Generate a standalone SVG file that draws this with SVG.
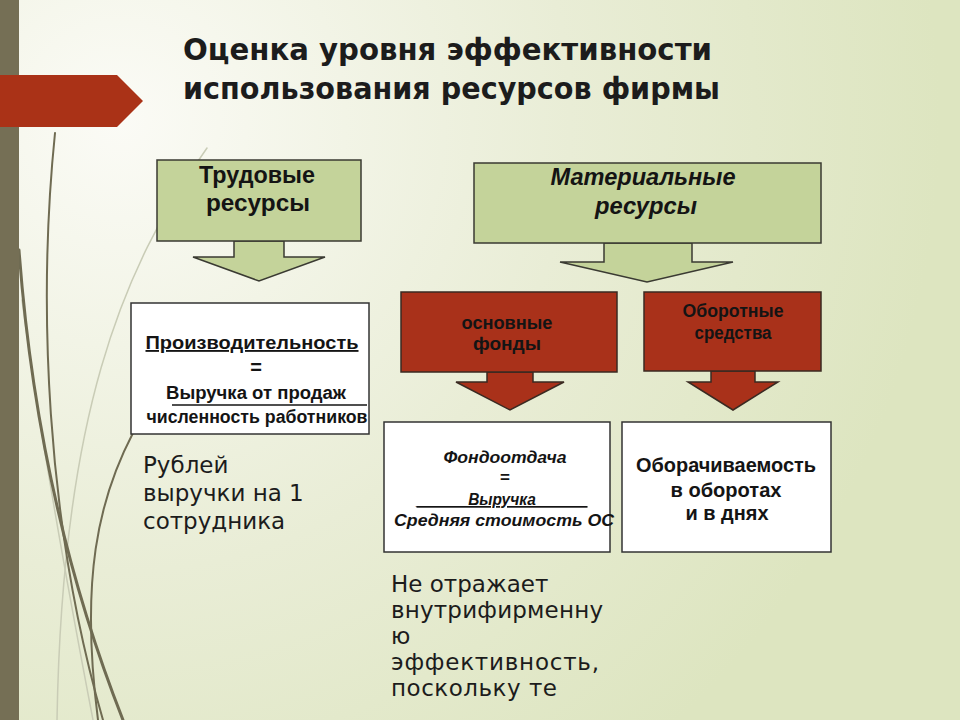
<svg xmlns="http://www.w3.org/2000/svg" width="960" height="720" viewBox="0 0 960 720">
<defs>
<radialGradient id="bg" cx="120" cy="120" r="820" gradientUnits="userSpaceOnUse">
<stop offset="0" stop-color="#fbfbf6"/>
<stop offset="0.55" stop-color="#e9edd6"/>
<stop offset="1" stop-color="#dde5c0"/>
</radialGradient>
<style>
.green{fill:#c4d39a;stroke:#3a3a32;stroke-width:1.5}
.red{fill:#a9311a;stroke:#3a2a22;stroke-width:1.5}
.white{fill:#ffffff;stroke:#333333;stroke-width:1.5}
.hb{font-family:"Liberation Sans",Arial,sans-serif;font-weight:bold;fill:#141414;text-anchor:middle}
.body{font-family:"DejaVu Sans","Liberation Sans",sans-serif;fill:#1c1c1c}
.curveD{fill:none;stroke:#6f6b52;stroke-linecap:round}
.curveL{fill:none;stroke:#c9ccb6;stroke-linecap:round}
</style>
</defs>
<rect width="960" height="720" fill="url(#bg)"/>
<g id="decor">
<path class="curveL" stroke-width="1.5" d="M207 148 C120 270, 62 420, 57 720"/>
<path class="curveL" stroke-width="1.5" d="M22 300 C42 450, 70 600, 93 720"/>
<path class="curveD" stroke-width="2" d="M55 133 C38 300, 45 520, 103 720"/>
<path class="curveD" stroke-width="3" d="M19 250 C30 400, 60 560, 123 720"/>
<path class="curveD" stroke-width="2" d="M133 433 C98 500, 80 580, 98 720"/>
<rect x="0" y="0" width="19" height="720" fill="#756f55"/>
<polygon points="0,75 117,75 143,101 117,127 0,127" fill="#aa3217"/>
</g>
<g id="title">
<text class="body" x="183" y="60" font-size="30" font-weight="bold" fill="#262626" textLength="529" lengthAdjust="spacingAndGlyphs">Оценка уровня эффективности</text>
<text class="body" x="183" y="99" font-size="30" font-weight="bold" fill="#262626" textLength="537" lengthAdjust="spacingAndGlyphs">использования ресурсов фирмы</text>
</g>
<g id="connectors">
<polygon class="green" points="234,241 284,241 284,257 325,257 259,281 193,257 234,257"/>
<polygon class="green" points="604,243 692,243 692,262 733,262 647,282 560,262 604,262"/>
<polygon class="red" points="487,372 533,372 533,382 564,382 510,410 456,382 487,382"/>
<polygon class="red" points="711,371 755,371 755,382 778,382 733,410 688,382 711,382"/>
</g>
<g id="labor">
<rect class="green" x="157" y="160" width="204" height="81"/>
<text class="hb" x="257" y="183" font-size="23" textLength="116" lengthAdjust="spacingAndGlyphs">Трудовые</text>
<text class="hb" x="258" y="211" font-size="23" textLength="104" lengthAdjust="spacingAndGlyphs">ресурсы</text>
</g>
<g id="material">
<rect class="green" x="474" y="163" width="347" height="80"/>
<text class="hb" x="643" y="185" font-size="23" font-style="italic" textLength="185" lengthAdjust="spacingAndGlyphs">Материальные</text>
<text class="hb" x="646" y="214" font-size="23" font-style="italic" textLength="102" lengthAdjust="spacingAndGlyphs">ресурсы</text>
</g>
<g id="fixed-assets">
<rect class="red" x="401" y="292" width="216" height="80"/>
<text class="hb" x="507" y="329" font-size="17.5" textLength="91" lengthAdjust="spacingAndGlyphs">основные</text>
<text class="hb" x="507" y="350" font-size="17.5" textLength="68" lengthAdjust="spacingAndGlyphs">фонды</text>
</g>
<g id="working-capital">
<rect class="red" x="644" y="292" width="177" height="79"/>
<text class="hb" x="733" y="317" font-size="17.5" textLength="101" lengthAdjust="spacingAndGlyphs">Оборотные</text>
<text class="hb" x="733" y="339" font-size="17.5" textLength="77" lengthAdjust="spacingAndGlyphs">средства</text>
</g>
<g id="productivity">
<rect class="white" x="131" y="303" width="238" height="131"/>
<text class="hb" x="252" y="349" font-size="18.5" text-decoration="underline" textLength="213" lengthAdjust="spacingAndGlyphs">Производительность</text>
<text class="hb" x="256" y="374" font-size="20">=</text>
<text class="hb" x="256" y="399" font-size="18" textLength="180" lengthAdjust="spacingAndGlyphs">Выручка от продаж</text>
<line x1="172" y1="405" x2="367" y2="405" stroke="#141414" stroke-width="1.3"/>
<text class="hb" x="257" y="423" font-size="17.5" textLength="221" lengthAdjust="spacingAndGlyphs">численность работников</text>
</g>
<g id="capital-productivity">
<rect class="white" x="384" y="422" width="226" height="130"/>
<text class="hb" x="505" y="463" font-size="17" font-style="italic" textLength="123" lengthAdjust="spacingAndGlyphs">Фондоотдача</text>
<text class="hb" x="505" y="483" font-size="17">=</text>
<text class="hb" x="502" y="505" font-size="17" font-style="italic" text-decoration="underline" textLength="171" lengthAdjust="spacingAndGlyphs">______Выручка______</text>
<text class="hb" x="504" y="526" font-size="17" font-style="italic" textLength="220" lengthAdjust="spacingAndGlyphs">Средняя стоимость ОС</text>
</g>
<g id="turnover">
<rect class="white" x="622" y="422" width="209" height="130"/>
<text class="hb" x="726" y="472" font-size="19.5" textLength="180" lengthAdjust="spacingAndGlyphs">Оборачиваемость</text>
<text class="hb" x="726" y="497" font-size="19.5" textLength="111" lengthAdjust="spacingAndGlyphs">в оборотах</text>
<text class="hb" x="727" y="520" font-size="19.5" textLength="83" lengthAdjust="spacingAndGlyphs">и в днях</text>
</g>
<g id="note-left">
<text class="body" x="143" y="473" font-size="23">Рублей</text>
<text class="body" x="143" y="501" font-size="23">выручки на 1</text>
<text class="body" x="143" y="529" font-size="23">сотрудника</text>
</g>
<g id="note-bottom">
<text class="body" x="391" y="592" font-size="23">Не отражает</text>
<text class="body" x="391" y="618" font-size="23" textLength="212">внутрифирменну</text>
<text class="body" x="391" y="644" font-size="23">ю</text>
<text class="body" x="391" y="670" font-size="23" textLength="208">эффективность,</text>
<text class="body" x="391" y="696" font-size="23" textLength="166">поскольку те</text>
</g>
</svg>
